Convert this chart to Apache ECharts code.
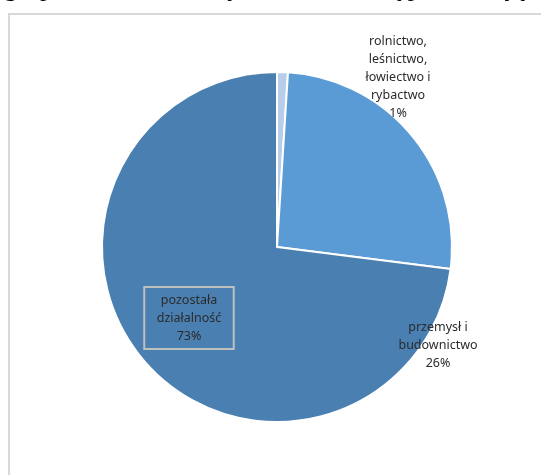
<!DOCTYPE html>
<html>
<head>
<meta charset="utf-8">
<script src="https://cdn.jsdelivr.net/npm/echarts@6/dist/echarts.min.js"></script>
<style>
html,body{margin:0;padding:0;background:#fff;}
#chart{width:541px;height:475px;}
</style>
</head>
<body>
<div id="chart"></div>
<script>
const categories = ['rolnictwo,\nleśnictwo,\nłowiectwo i\nrybactwo', 'przemysł i\nbudownictwo', 'pozostała\ndziałalność'];
const values = [1, 26, 73];
const colors = ['#b8cde9', '#5b9bd5', '#4a7fb1'];
const labelPos = [[398, 77], [438, 345], [189, 318]];

const chart = echarts.init(document.getElementById('chart'), null, {renderer: 'canvas'});
const data = categories.map((c, i) => ({
  name: c,
  value: values[i],
  itemStyle: {color: colors[i]},
  label: i === 2 ? {borderColor: '#bfbfbf', borderWidth: 2, padding: [5, 6, 3, 6]} : {width: 130, overflow: 'none'}
}));
chart.setOption({
  animation: false,
  graphic: [
    {type: 'rect', shape: {x: 9, y: 14, width: 600, height: 600}, style: {fill: 'none', stroke: '#d9d9d9', lineWidth: 2}, z: -1},
    {type: 'text', left: 4, top: -24, style: {text: 'gospodarki narodowej, które stanowią przeważającą', font: '26px "Liberation Serif"', fill: '#000'}}
  ],
  series: [{
    type: 'pie',
    center: [277, 247],
    radius: 175,
    startAngle: 90,
    clockwise: true,
    data: data,
    itemStyle: {borderColor: '#fff', borderWidth: 2},
    label: {
      show: true,
      formatter: p => p.name + '\n' + p.value + '%',
      fontFamily: '"Noto Sans", sans-serif',
      fontSize: 12.5,
      lineHeight: 18,
      color: '#2b2b2b',
      align: 'center'
    },
    labelLine: {show: false},
    labelLayout: function (p) {
      const pos = labelPos[p.dataIndex];
      return {x: pos[0], y: pos[1], align: 'center', verticalAlign: 'middle'};
    }
  }]
});
</script>
</body>
</html>
